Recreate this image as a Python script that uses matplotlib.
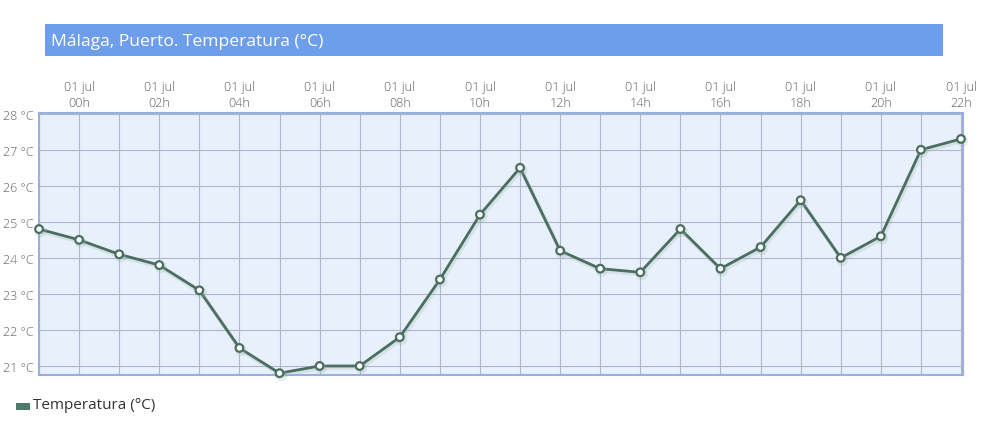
import matplotlib
matplotlib.use('Agg')
import matplotlib.pyplot as plt
import matplotlib.patheffects as pe
from matplotlib.patches import Rectangle

plt.rcParams['font.family'] = ['Open Sans', 'DejaVu Sans']

# hourly temperatures, 30 jun 23h .. 01 jul 22h
hours = list(range(-1, 23))
temps = [24.8, 24.5, 24.1, 23.8, 23.1, 21.5, 20.8, 21.0, 21.0, 21.8, 23.4, 25.2,
         26.5, 24.2, 23.7, 23.6, 24.8, 23.7, 24.3, 25.6, 24.0, 24.6, 27.0, 27.3]
tick_hours = list(range(0, 23, 2))
tick_labels = ["01 jul\n%02dh" % h for h in tick_hours]
y_ticks = [21, 22, 23, 24, 25, 26, 27, 28]

line_col = "#4a6e60"

fig = plt.figure(figsize=(9.87, 4.39), dpi=100)
ax = fig.add_axes([39/987, (439-376)/439, 924/987, 262/439])
ax.set_facecolor("#e8f0fc")

ax.plot(hours, temps, color=line_col, lw=2, marker="o", markersize=5.5,
        markerfacecolor="white", markeredgecolor=line_col, markeredgewidth=1.6,
        path_effects=[pe.SimpleLineShadow(offset=(1, -1.5), shadow_color="#9ab5a8", alpha=0.25, linewidth=3),
                      pe.Normal()], clip_on=False, zorder=5)

ax.set_xlim(-1, 22.05)
ax.set_ylim(20.75, 28.02)

ax.xaxis.tick_top()
ax.set_xticks(tick_hours)
ax.set_xticklabels(tick_labels, fontsize=9, color="#606060", linespacing=1.3, fontweight="light")
ax.set_xticks(hours, minor=True)
ax.set_yticks(y_ticks)
ax.set_yticklabels(["%d °C" % t for t in y_ticks], fontsize=9, color="#606060", fontweight="light")
ax.tick_params(axis="both", which="both", length=0, pad=4)
ax.tick_params(axis="x", pad=3)
ax.grid(True, which="both", color="#b0b7cc", lw=0.8)
ax.set_axisbelow(True)

for s in ax.spines.values():
    s.set_color("#99afe0")
    s.set_linewidth(1.5)

# title bar
fig.patches.append(Rectangle((45/987, 1 - 57/439), 898/987, 32/439,
                             transform=fig.transFigure, facecolor="#6d9eeb", edgecolor="none"))
fig.text(51/987, 1 - 42/439, "Málaga, Puerto. Temperatura (°C)", color="white",
         fontsize=12.6, va="center", ha="left")

# legend
fig.patches.append(Rectangle((16/987, 1 - 411/439), 14/987, 7/439,
                             transform=fig.transFigure, facecolor="#4f7a6a", edgecolor="none"))
fig.text(33/987, 1 - 406/439, "Temperatura (°C)", color="#333333", fontsize=11,
         va="center", ha="left")

plt.savefig("out.png", dpi=100)
